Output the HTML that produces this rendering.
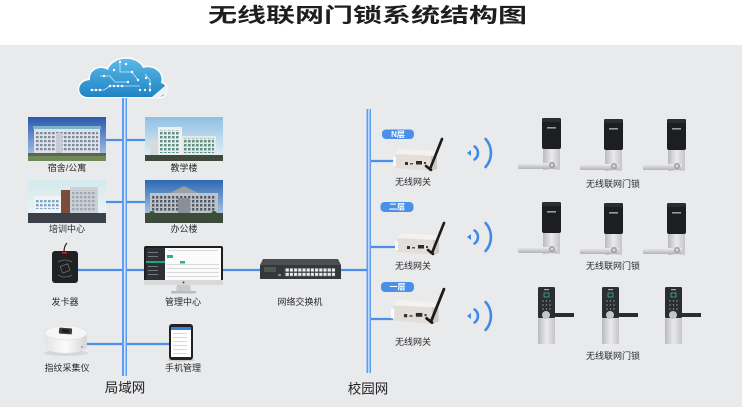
<!DOCTYPE html>
<html><head><meta charset="utf-8">
<style>
html,body{margin:0;padding:0;}
body{width:742px;height:407px;overflow:hidden;background:#fff;position:relative;font-family:"Liberation Sans","Noto Sans CJK SC",sans-serif;}
.title{position:absolute;left:0;top:5px;width:735px;text-align:center;font-size:20px;line-height:22px;font-weight:bold;color:#1e1e1e;transform:scaleX(1.45);transform-origin:367.5px 0;z-index:2;white-space:nowrap;}
svg{position:absolute;left:0;top:0;}
svg text{font-family:"Liberation Sans","Noto Sans CJK SC",sans-serif;}
</style></head><body>
<div class="title">无线联网门锁系统结构图</div>
<svg width="742" height="407" viewBox="0 0 742 407" xmlns="http://www.w3.org/2000/svg">
<defs>
  <linearGradient id="cloudG" x1="0" y1="0" x2="0" y2="1"><stop offset="0" stop-color="#5cb9e8"/><stop offset="1" stop-color="#1f84c4"/></linearGradient>
  <linearGradient id="sky1" x1="0" y1="0" x2="0" y2="1"><stop offset="0" stop-color="#2a57ad"/><stop offset="1" stop-color="#b5d0ec"/></linearGradient>
  <linearGradient id="sky2" x1="0" y1="0" x2="0" y2="1"><stop offset="0" stop-color="#8fbfe4"/><stop offset="1" stop-color="#eef5f9"/></linearGradient>
  <linearGradient id="sky3" x1="0" y1="0" x2="0" y2="1"><stop offset="0" stop-color="#d3e9ec"/><stop offset="1" stop-color="#f1f6f6"/></linearGradient>
  <linearGradient id="sky4" x1="0" y1="0" x2="0" y2="1"><stop offset="0" stop-color="#2c68b2"/><stop offset="1" stop-color="#c8def1"/></linearGradient>
  <linearGradient id="silver" x1="0" y1="0" x2="1" y2="0"><stop offset="0" stop-color="#b9babd"/><stop offset="0.5" stop-color="#eaeaec"/><stop offset="1" stop-color="#c4c5c8"/></linearGradient>
  <linearGradient id="silverV" x1="0" y1="0" x2="0" y2="1"><stop offset="0" stop-color="#eeeeef"/><stop offset="1" stop-color="#b3b4b7"/></linearGradient>
  <linearGradient id="fpG" x1="0" y1="0" x2="1" y2="0"><stop offset="0" stop-color="#e4e4e6"/><stop offset="0.5" stop-color="#fbfbfb"/><stop offset="1" stop-color="#d6d6d8"/></linearGradient>
  <pattern id="win1" width="4" height="4" patternUnits="userSpaceOnUse"><rect width="2.6" height="2.2" fill="#7d8ba0"/></pattern>
  <pattern id="win2" width="4" height="4" patternUnits="userSpaceOnUse"><rect width="2.6" height="2.4" fill="#5c8f86"/></pattern>
  <pattern id="win3" width="4" height="4" patternUnits="userSpaceOnUse"><rect width="2.6" height="2.4" fill="#7fa3c2"/></pattern>
  <pattern id="win4" width="4" height="4" patternUnits="userSpaceOnUse"><rect width="2.4" height="2.6" fill="#545c68"/></pattern>
  <pattern id="ports" width="4.2" height="4.4" patternUnits="userSpaceOnUse"><rect width="3.2" height="3.2" fill="#e6e8ea"/></pattern>

  <g id="gw">
    <polygon points="6,0 40,2 44,7 2,5" fill="#f4f1ee"/>
    <polygon points="2,5 38,7 38,22 2,19" fill="#e3ded9"/>
    <polygon points="38,7 44,7 44,20 38,22" fill="#cfc9c3"/>
    <rect x="0" y="8" width="3" height="9" fill="#fafafa"/>
    <rect x="12" y="13" width="3" height="3" fill="#333"/>
    <rect x="17" y="14" width="3" height="1.5" fill="#555"/>
    <rect x="23" y="12" width="6" height="3.5" fill="#2b2b2b"/>
    <rect x="31" y="13" width="2" height="2" fill="#444"/>
    <line x1="37" y1="20" x2="49" y2="-10" stroke="#1b1b1b" stroke-width="2.6" stroke-linecap="round"/>
    <line x1="33" y1="17" x2="38" y2="21" stroke="#1b1b1b" stroke-width="2.6" stroke-linecap="round"/>
  </g>

  <g id="wifi" fill="none" stroke="#3d8ae8" stroke-width="2.6" stroke-linecap="round">
    <polygon points="-3,0 1,-3 1,3" fill="#3d8ae8" stroke="none"/>
    <path d="M4.6,-6.5 A8 8 0 0 1 4.6,6.5"/>
    <path d="M15.6,-14 A21 21 0 0 1 15.6,14"/>
  </g>

  <g id="lockA">
    <rect x="-24" y="45" width="39" height="6" rx="1" fill="url(#silverV)"/>
    <rect x="1" y="28" width="17" height="24" fill="url(#silver)"/>
    <rect x="0" y="0" width="19" height="31" rx="2" fill="#1d1e20"/>
    <rect x="0" y="0" width="19" height="4" rx="1.5" fill="#2c2d30"/>
    <rect x="5" y="9" width="9" height="1.6" fill="#9a9a9a"/>
    <rect x="-24" y="45" width="39" height="6" rx="1" fill="url(#silverV)"/>
    <circle cx="10" cy="47" r="3" fill="#9d9ea1"/>
    <circle cx="10" cy="47" r="1.5" fill="#d8d8d8"/>
  </g>

  <g id="lockB">
    <rect x="0" y="0" width="17" height="57" rx="1.5" fill="url(#silver)"/>
    <rect x="0" y="0" width="17" height="31" rx="1.5" fill="#2a2d31"/>
    <rect x="6" y="2" width="5" height="1.2" fill="#aaa"/>
    <rect x="6" y="6" width="5" height="4" fill="none" stroke="#3fb89a" stroke-width="0.8"/>
    <g fill="#9aa0a8"><circle cx="5" cy="14" r="0.7"/><circle cx="8.5" cy="14" r="0.7"/><circle cx="12" cy="14" r="0.7"/><circle cx="5" cy="18" r="0.7"/><circle cx="8.5" cy="18" r="0.7"/><circle cx="12" cy="18" r="0.7"/><circle cx="5" cy="22" r="0.7"/><circle cx="8.5" cy="22" r="0.7"/><circle cx="12" cy="22" r="0.7"/></g>
    <rect x="6" y="26" width="30" height="4" fill="#2b2c2e"/>
    <circle cx="8" cy="28" r="4" fill="#c4c5c7"/>
  </g>
</defs>

<!-- background -->
<rect x="0" y="45" width="742" height="362" fill="#e9eaec"/>

<!-- cloud -->
<path d="M88,97 C76,97 76,81 90,80 C89,70 100,65 108,70 C112,57 136,54 143,68 C153,65 164,72 161,83 C169,85 168,97 158,97 Z" fill="#ffffff" stroke="#ffffff" stroke-width="3"/>
<path d="M88,97 C76,97 76,81 90,80 C89,70 100,65 108,70 C112,57 136,54 143,68 C153,65 164,72 161,83 C169,85 168,97 158,97 Z" fill="url(#cloudG)"/>
<polygon points="152,97 166,85 168,92 158,98" fill="#eaf3f8"/>
<g stroke="#d9f0fb" stroke-width="0.8" fill="none" opacity="0.9">
  <path d="M100,76 L110,76 L115,82 L128,82"/><path d="M120,62 L120,72 L132,72 L138,80"/><path d="M90,90 L104,90 L110,86 L140,86"/><path d="M145,74 L150,80 L150,92"/>
</g>
<g fill="#ffffff">
  <circle cx="92" cy="90" r="1.2"/><circle cx="96" cy="90" r="1.2"/><circle cx="100" cy="90" r="1.2"/><circle cx="110" cy="86" r="1.2"/><circle cx="114" cy="86" r="1.2"/><circle cx="118" cy="86" r="1.2"/><circle cx="122" cy="86" r="1.2"/>
  <circle cx="120" cy="62" r="1.2"/><circle cx="126" cy="64" r="1.2"/><circle cx="114" cy="70" r="1.2"/><circle cx="132" cy="72" r="1.2"/><circle cx="138" cy="80" r="1.2"/><circle cx="146" cy="78" r="1.2"/><circle cx="150" cy="84" r="1.2"/><circle cx="150" cy="90" r="1.2"/><circle cx="104" cy="76" r="1.2"/><circle cx="128" cy="82" r="1.2"/><circle cx="140" cy="90" r="1.2"/><circle cx="145" cy="90" r="1.2"/>
</g>

<!-- backbone lines -->
<rect x="122" y="98" width="5" height="278" fill="#5d9cf0"/>
<rect x="124" y="98" width="1.5" height="278" fill="#d8e8fc"/>
<rect x="366.5" y="109" width="4.5" height="264" fill="#5d9cf0"/>
<rect x="368.2" y="109" width="1.3" height="264" fill="#d8e8fc"/>

<g stroke="#4a8fe8" stroke-width="2.2">
  <line x1="106" y1="140" x2="122" y2="140"/><line x1="127" y1="140" x2="145" y2="140"/>
  <line x1="106" y1="202" x2="122" y2="202"/><line x1="127" y1="202" x2="145" y2="202"/>
  <line x1="78" y1="270" x2="122" y2="270"/><line x1="127" y1="270" x2="145" y2="270"/>
  <line x1="223" y1="270" x2="260" y2="270"/><line x1="341" y1="270" x2="367" y2="270"/>
  <line x1="87" y1="344" x2="122" y2="344"/><line x1="127" y1="344" x2="169" y2="344"/>
  <line x1="371" y1="161" x2="395" y2="161"/>
  <line x1="371" y1="247" x2="397" y2="247"/>
  <line x1="371" y1="319" x2="393" y2="319"/>
</g>

<!-- building 宿舍 -->
<g>
  <rect x="28" y="117" width="78" height="44" fill="url(#sky1)"/>
  <rect x="33" y="126" width="68" height="3" fill="#7cb4c8"/>
  <rect x="34" y="129" width="66" height="25" fill="#dfe1e6"/>
  <rect x="36" y="131" width="62" height="21" fill="url(#win1)"/>
  <rect x="56" y="133" width="6" height="21" fill="#c7cad1"/>
  <rect x="28" y="153" width="78" height="3" fill="#5a6650"/>
  <rect x="28" y="156" width="78" height="5" fill="#6f8a58"/>
</g>
<!-- building 教学楼 -->
<g>
  <rect x="145" y="117" width="78" height="44" fill="url(#sky2)"/>
  <rect x="158" y="127" width="24" height="28" fill="#eef0f0"/>
  <rect x="160" y="130" width="20" height="23" fill="url(#win2)"/>
  <rect x="182" y="136" width="34" height="19" fill="#e4e8e8"/>
  <rect x="184" y="138" width="30" height="15" fill="url(#win2)"/>
  <rect x="150" y="140" width="8" height="15" fill="#d6dcdc"/>
  <rect x="145" y="155" width="78" height="6" fill="#3f4a3c"/>
</g>
<!-- building 培训中心 -->
<g>
  <rect x="28" y="180" width="78" height="43" fill="url(#sky3)"/>
  <rect x="34" y="196" width="28" height="18" fill="#f2f3f4"/>
  <rect x="36" y="199" width="24" height="10" fill="url(#win3)"/>
  <rect x="61" y="190" width="9" height="24" fill="#7b4c3b"/>
  <rect x="70" y="187" width="28" height="27" fill="#cdd0d4"/>
  <rect x="72" y="190" width="24" height="22" fill="url(#win1)" opacity="0.6"/>
  <rect x="28" y="213" width="78" height="10" fill="#3c4048"/>
</g>
<!-- building 办公楼 -->
<g>
  <rect x="145" y="180" width="78" height="43" fill="url(#sky4)"/>
  <polygon points="170,193 184,186 198,193" fill="#9aa0a8"/>
  <rect x="150" y="193" width="68" height="21" fill="#bfc3c9"/>
  <rect x="152" y="196" width="64" height="16" fill="url(#win4)"/>
  <rect x="178" y="198" width="12" height="16" fill="#8a9099"/>
  <rect x="145" y="213" width="78" height="10" fill="#3e4b3c"/>
  <circle cx="152" cy="214" r="3" fill="#2f5a2e"/><circle cx="214" cy="214" r="3" fill="#2f5a2e"/>
</g>

<!-- card reader -->
<g>
  <path d="M64,252 Q64,246 67,243" stroke="#222" stroke-width="1.2" fill="none"/>
  <rect x="52" y="251" width="26" height="32" rx="3" fill="#1f2123"/>
  <rect x="62" y="252" width="5" height="1.5" fill="#c23"/>
  <g stroke="#6b6f72" stroke-width="0.8" fill="none">
    <path d="M58,262 Q65,258 72,262"/><path d="M58,275 Q65,279 72,275"/>
    <rect x="61" y="265" width="8" height="7" transform="rotate(-20 65 268)"/>
  </g>
</g>

<!-- monitor -->
<g>
  <rect x="144" y="246" width="79" height="39" rx="2" fill="#1c1e21"/>
  <rect x="146" y="248" width="75" height="32" fill="#fbfbfb"/>
  <rect x="146" y="248" width="19" height="32" fill="#2d3137"/>
  <rect x="146" y="261" width="19" height="2" fill="#1aa77f"/>
  <g fill="#888"><rect x="148" y="252" width="10" height="0.8"/><rect x="148" y="256" width="10" height="0.8"/><rect x="148" y="266" width="10" height="0.8"/><rect x="148" y="270" width="10" height="0.8"/><rect x="148" y="274" width="10" height="0.8"/></g>
  <rect x="167" y="255" width="6" height="3" fill="#2bb08a"/>
  <rect x="180" y="261" width="5" height="2.5" fill="#2bb08a"/>
  <g fill="#c9c9c9"><rect x="168" y="250" width="50" height="0.7"/><rect x="167" y="264" width="52" height="0.7"/><rect x="167" y="268" width="52" height="0.7"/><rect x="167" y="272" width="52" height="0.7"/><rect x="167" y="276" width="52" height="0.7"/></g>
  <rect x="144" y="280" width="79" height="5" fill="#d9d9db"/>
  <circle cx="183.5" cy="282.5" r="1" fill="#444"/>
  <polygon points="177,285 190,285 191,292 176,292" fill="#c8c9cb"/>
  <rect x="171" y="291" width="25" height="2.5" rx="1" fill="#b9babc"/>
</g>

<!-- fingerprint reader -->
<g>
  <ellipse cx="66" cy="353" rx="22" ry="3" fill="#c9cacc" opacity="0.6"/>
  <path d="M45,333 L45,346 A21 7 0 0 0 87,346 L87,333 Z" fill="url(#fpG)"/>
  <ellipse cx="66" cy="333" rx="21" ry="7" fill="#f6f6f6" stroke="#dedede" stroke-width="0.6"/>
  <rect x="59" y="328" width="13" height="6" rx="1" fill="#3a3b3d" transform="rotate(4 65 331)"/>
  <rect x="62" y="329.5" width="7" height="3" fill="#1b1b1c" transform="rotate(4 65 331)"/>
  <circle cx="82" cy="347" r="0.9" fill="#888"/>
</g>

<!-- phone -->
<g>
  <ellipse cx="181" cy="360" rx="14" ry="1.5" fill="#bbb" opacity="0.6"/>
  <rect x="169" y="324" width="24" height="36" rx="3" fill="#222"/>
  <rect x="171" y="327" width="20" height="30" fill="#fff"/>
  <rect x="171" y="327" width="20" height="3" fill="#3b7de0"/>
  <g fill="#cfcfcf"><rect x="173" y="333" width="14" height="0.8"/><rect x="173" y="337" width="14" height="0.8"/><rect x="173" y="341" width="14" height="0.8"/><rect x="173" y="345" width="14" height="0.8"/><rect x="173" y="349" width="14" height="0.8"/><rect x="173" y="353" width="14" height="0.8"/></g>
</g>

<!-- switch -->
<g>
  <polygon points="263,259 338,259 341,265 260,265" fill="#4b4e53"/>
  <rect x="260" y="265" width="81" height="14" fill="#34373b"/>
  <rect x="264" y="267" width="12" height="5" fill="#4a5a4c"/>
  <rect x="284.5" y="267.8" width="51" height="9" fill="url(#ports)"/>
  <rect x="278" y="274" width="3" height="2" fill="#888"/>
</g>

<!-- badges -->
<g>
  <rect x="382" y="129.5" width="32" height="9.5" rx="4" fill="#4a8fe8"/>
  <rect x="380.5" y="202" width="33" height="10" rx="4" fill="#4a8fe8"/>
  <rect x="381" y="282" width="33" height="10" rx="4" fill="#4a8fe8"/>
  <g fill="#ffffff" font-size="8" font-weight="bold" text-anchor="middle" dominant-baseline="central">
    <text x="398" y="134.5">N层</text>
    <text x="397" y="207">二层</text>
    <text x="397.5" y="287">一层</text>
  </g>
</g>

<!-- gateways -->
<use href="#gw" transform="translate(393,149)"/>
<use href="#gw" transform="translate(395,233)"/>
<use href="#gw" transform="translate(391,300) scale(1.08)"/>

<!-- wifi -->
<use href="#wifi" transform="translate(470,153)"/>
<use href="#wifi" transform="translate(470,237)"/>
<use href="#wifi" transform="translate(470,316)"/>

<!-- locks -->
<use href="#lockA" transform="translate(542,118)"/>
<use href="#lockA" transform="translate(604,119)"/>
<use href="#lockA" transform="translate(667,119)"/>
<use href="#lockA" transform="translate(542,202)"/>
<use href="#lockA" transform="translate(604,203)"/>
<use href="#lockA" transform="translate(667,203)"/>
<use href="#lockB" transform="translate(538,287)"/>
<use href="#lockB" transform="translate(602,287)"/>
<use href="#lockB" transform="translate(665,287)"/>

<!-- labels -->
<g fill="#2a2a2a" font-size="9" text-anchor="middle" dominant-baseline="central">
  <text x="67" y="168">宿舍/公寓</text>
  <text x="184" y="168">教学楼</text>
  <text x="67" y="229">培训中心</text>
  <text x="184" y="229">办公楼</text>
  <text x="65" y="302">发卡器</text>
  <text x="183" y="302">管理中心</text>
  <text x="67" y="368">指纹采集仪</text>
  <text x="183" y="368">手机管理</text>
  <text x="300" y="302">网络交换机</text>
  <text x="413" y="182">无线网关</text>
  <text x="413" y="266">无线网关</text>
  <text x="413" y="342">无线网关</text>
  <text x="613" y="184">无线联网门锁</text>
  <text x="613" y="266">无线联网门锁</text>
  <text x="613" y="356">无线联网门锁</text>
</g>
<g fill="#222" font-size="13.5" text-anchor="middle" dominant-baseline="central">
  <text x="125" y="388">局域网</text>
  <text x="368" y="389">校园网</text>
</g>
</svg>
</body></html>
